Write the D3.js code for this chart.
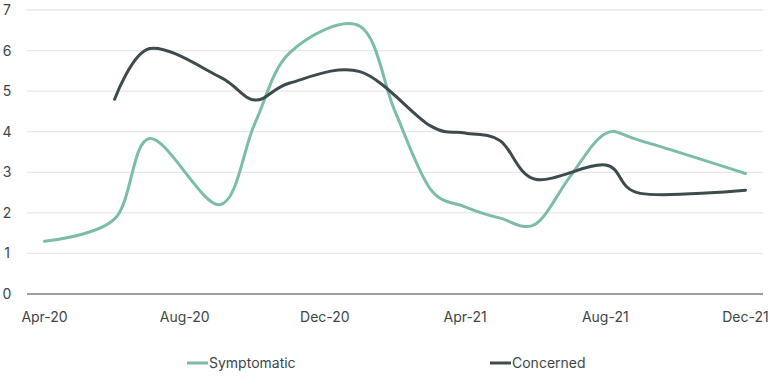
<!DOCTYPE html>
<html>
<head>
<meta charset="utf-8">
<script src="https://cdn.jsdelivr.net/npm/d3@7"></script>
<style>
  body { margin: 0; background: #fff; }
  text { font-family: Inter, "Noto Sans", sans-serif; fill: #3c4649; }
</style>
</head>
<body>
<div id="chart"></div>
<script>
// months on the x axis
const months = ["Apr-20","May-20","Jun-20","Jul-20","Aug-20","Sep-20","Oct-20","Nov-20","Dec-20",
  "Jan-21","Feb-21","Mar-21","Apr-21","May-21","Jun-21","Jul-21","Aug-21","Sep-21","Oct-21","Nov-21","Dec-21"];
const tickLabels = ["Apr-20","Aug-20","Dec-20","Apr-21","Aug-21","Dec-21"];
const yTicks = [0,1,2,3,4,5,6,7];

// values (null = no reading that month)
const symptomatic = [1.3,null,1.85,3.83,null,2.2,4.2,5.95,null,6.6,4.5,2.6,2.15,1.87,1.72,2.9,3.95,3.78,null,null,2.97];
const concerned   = [null,null,4.8,6.05,null,5.35,4.78,5.2,null,5.48,null,4.15,3.97,3.78,2.83,null,3.18,2.48,null,null,2.56];

const seriesNames = ["Symptomatic","Concerned"];
const colors = ["#7bbcaa","#3e4b4e"];

const width = 770, height = 385;
const margin = { top: 10, right: 7, bottom: 91, left: 27 };

const svg = d3.select("#chart").append("svg")
  .attr("width", width)
  .attr("height", height);

const x = d3.scalePoint()
  .domain(months)
  .range([margin.left, width - margin.right])
  .padding(0.5);

const y = d3.scaleLinear()
  .domain([0, 7])
  .range([height - margin.bottom, margin.top]);

// gridlines
svg.append("g")
  .selectAll("line")
  .data(yTicks.filter(d => d > 0))
  .enter().append("line")
  .attr("x1", margin.left)
  .attr("x2", width - margin.right)
  .attr("y1", d => y(d))
  .attr("y2", d => y(d))
  .attr("stroke", "#e6e8e8")
  .attr("stroke-width", 1.3);

// y labels
svg.append("g")
  .selectAll("text")
  .data(yTicks)
  .enter().append("text")
  .attr("x", 7)
  .attr("y", d => y(d) + 5)
  .attr("text-anchor", "middle")
  .attr("font-size", "14px")
  .text(d => d);

// x axis line
svg.append("line")
  .attr("x1", margin.left)
  .attr("x2", width - margin.right)
  .attr("y1", y(0))
  .attr("y2", y(0))
  .attr("stroke", "#76817f")
  .attr("stroke-width", 1.5);

// x labels
svg.append("g")
  .selectAll("text")
  .data(tickLabels)
  .enter().append("text")
  .attr("x", d => x(d))
  .attr("y", y(0) + 28)
  .attr("text-anchor", "middle")
  .attr("font-size", "14px")
  .text(d => d);

// smoothed line, like the spreadsheet's smooth option
const line = d3.line()
  .x(d => x(d.m))
  .y(d => y(d.v))
  .curve(d3.curveCatmullRom.alpha(0));

[symptomatic, concerned].forEach((vals, i) => {
  svg.append("path")
    .datum(months.map((m, j) => ({ m: m, v: vals[j] })).filter(d => d.v != null))
    .attr("d", line)
    .attr("fill", "none")
    .attr("stroke", colors[i])
    .attr("stroke-width", 3)
    .attr("stroke-linecap", "round");
});

// legend
const legendX = [187, 490];
seriesNames.forEach((name, i) => {
  svg.append("line")
    .attr("x1", legendX[i])
    .attr("x2", legendX[i] + 21)
    .attr("y1", 363)
    .attr("y2", 363)
    .attr("stroke", colors[i])
    .attr("stroke-width", 3);
  svg.append("text")
    .attr("x", legendX[i] + 22)
    .attr("y", 368)
    .attr("font-size", "14px")
    .text(name);
});
</script>
</body>
</html>
